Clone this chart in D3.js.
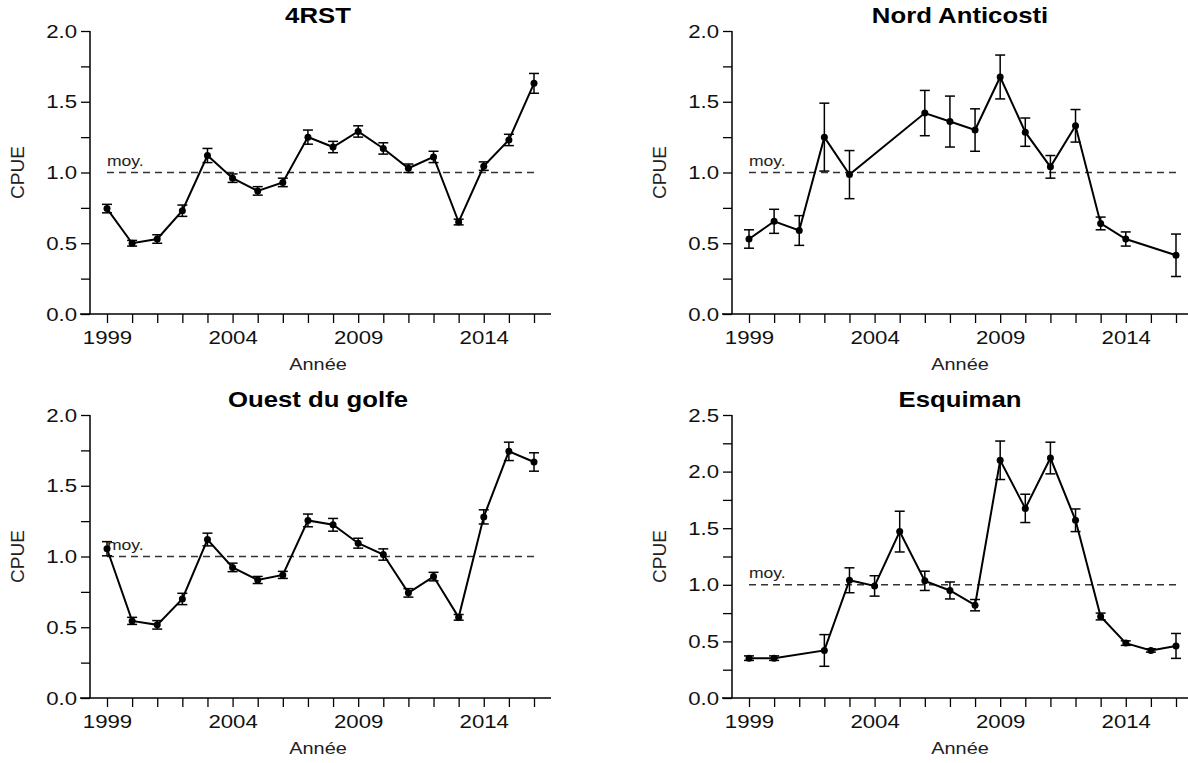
<!DOCTYPE html>
<html>
<head>
<meta charset="utf-8">
<script src="https://cdn.jsdelivr.net/npm/d3@7"></script>
<style>
body { margin: 0; background: #fff; }
svg { font-family: "Liberation Sans", Arial, sans-serif; }
</style>
</head>
<body>
<div id="chart"></div>
<script>
// data
const titles = ["4RST", "Nord Anticosti", "Ouest du golfe", "Esquiman"];
const yearTicks = [1999, 2004, 2009, 2014];

const years4RST = [1999,2000,2001,2002,2003,2004,2005,2006,2007,2008,2009,2010,2011,2012,2013,2014,2015,2016];
const cpue4RST  = [0.745,0.50,0.53,0.73,1.12,0.96,0.87,0.93,1.25,1.18,1.29,1.17,1.03,1.11,0.65,1.045,1.23,1.63];
const err4RST   = [0.03,0.02,0.03,0.04,0.05,0.03,0.03,0.03,0.05,0.04,0.04,0.04,0.03,0.04,0.02,0.03,0.04,0.07];

const yearsNord = [1999,2000,2001,2002,2003,2006,2007,2008,2009,2010,2011,2012,2013,2014,2016];
const cpueNord  = [0.53,0.655,0.59,1.25,0.985,1.42,1.36,1.30,1.675,1.285,1.04,1.33,0.64,0.53,0.415];
const errNord   = [0.065,0.085,0.105,0.24,0.17,0.16,0.18,0.15,0.155,0.10,0.08,0.115,0.045,0.05,0.15];

const yearsOuest = [1999,2000,2001,2002,2003,2004,2005,2006,2007,2008,2009,2010,2011,2012,2013,2014,2015,2016];
const cpueOuest  = [1.055,0.545,0.517,0.70,1.12,0.923,0.834,0.87,1.255,1.224,1.094,1.014,0.743,0.858,0.57,1.28,1.743,1.668];
const errOuest   = [0.05,0.025,0.03,0.04,0.045,0.03,0.025,0.025,0.045,0.045,0.035,0.04,0.03,0.03,0.02,0.05,0.065,0.065];

const yearsEsq = [1999,2000,2002,2003,2004,2005,2006,2007,2008,2009,2010,2011,2012,2013,2014,2015,2016];
const cpueEsq  = [0.352,0.352,0.42,1.04,0.99,1.47,1.035,0.95,0.82,2.10,1.675,2.12,1.57,0.72,0.485,0.42,0.46];
const errEsq   = [0.02,0.02,0.14,0.11,0.09,0.18,0.085,0.075,0.05,0.17,0.125,0.14,0.10,0.03,0.02,0.015,0.11];

const yMaxes = [2.0, 2.0, 2.0, 2.5];

const panels = [
    {title: titles[0], years: years4RST, cpue: cpue4RST, err: err4RST, yMax: yMaxes[0], ox: 0, oy: 0},
    {title: titles[1], years: yearsNord, cpue: cpueNord, err: errNord, yMax: yMaxes[1], ox: 642, oy: 0},
    {title: titles[2], years: yearsOuest, cpue: cpueOuest, err: errOuest, yMax: yMaxes[2], ox: 0, oy: 384},
    {title: titles[3], years: yearsEsq, cpue: cpueEsq, err: errEsq, yMax: yMaxes[3], ox: 642, oy: 384}
];

// the reference's lettering is a bit wider than Liberation Sans
const sx = 1.17;

const svg = d3.select("#chart").append("svg")
    .attr("width", 1188)
    .attr("height", 763);

function wideText(parent, x, y, txt, size) {
    return parent.append("g").attr("transform", "translate(" + x + "," + y + ") scale(" + sx + ",1)")
        .append("text").attr("font-size", size).attr("text-anchor", "middle").text(txt);
}

panels.forEach(p => {
    const g = svg.append("g").attr("transform", "translate(" + p.ox + "," + p.oy + ")");
    const xScale = d3.scaleLinear().domain([1999, 2016]).range([107, 534]);
    const yScale = d3.scaleLinear().domain([0, p.yMax]).range([314, 31]);

    const xAxisG = g.append("g").attr("transform", "translate(0,314)");
    xAxisG.append("line").attr("x1", 80).attr("x2", 551).attr("stroke", "#000").attr("stroke-width", 1.5);
    xAxisG.call(d3.axisBottom(xScale).tickValues(d3.range(1999, 2017)).tickSize(9).tickFormat(d => yearTicks.includes(d) ? d : ""))
        .call(a => a.select(".domain").remove())
        .selectAll("text").attr("font-size", 19).attr("fill", "#111").attr("y", 13).attr("dy", "0.9em")
        .attr("transform", "scale(" + sx + ",1)");
    xAxisG.selectAll(".tick line").attr("stroke-width", 1.3);

    const yAxisG = g.append("g").attr("transform", "translate(90,0)");
    yAxisG.call(d3.axisLeft(yScale).tickValues(d3.range(0, p.yMax + 0.01, 0.25)).tickSize(9)
            .tickFormat(d => (Math.round(d * 100) % 50 === 0) ? d3.format(".1f")(d) : ""))
        .call(a => a.select(".domain").attr("d", "M0," + yScale(0) + "V" + yScale(p.yMax)).attr("stroke-width", 1.5))
        .selectAll("text").attr("font-size", 19).attr("fill", "#111").attr("x", -11)
        .attr("transform", "scale(" + sx + ",1)");
    yAxisG.selectAll(".tick line").attr("stroke-width", 1.3);

    wideText(g, 318, 23, p.title, 22).attr("font-weight", "bold");
    wideText(g, 318, 370, "Année", 17).attr("fill", "#222");
    g.append("text").attr("transform", "translate(24," + yScale(p.yMax / 2) + ") rotate(-90)")
        .attr("text-anchor", "middle").attr("font-size", 19).attr("fill", "#222").text("CPUE");

    // mean line
    g.append("line").attr("x1", xScale(1999)).attr("x2", xScale(2016))
        .attr("y1", yScale(1)).attr("y2", yScale(1))
        .attr("stroke", "#333").attr("stroke-width", 1.5).attr("stroke-dasharray", "7,5");
    wideText(g, xScale(1999), yScale(1) - 7, "moy.", 15).attr("text-anchor", "start").attr("fill", "#222");

    const data = p.years.map((y, i) => ({year: y, v: p.cpue[i], e: p.err[i]}));

    g.append("path").datum(data)
        .attr("fill", "none").attr("stroke", "#000").attr("stroke-width", 2)
        .attr("d", d3.line().x(d => xScale(d.year)).y(d => yScale(d.v)));

    const eb = g.selectAll(".errG").data(data).join("g").attr("class", "errG")
        .attr("stroke", "#000").attr("stroke-width", 1.5);
    eb.append("line").attr("x1", d => xScale(d.year)).attr("x2", d => xScale(d.year))
        .attr("y1", d => yScale(d.v - d.e)).attr("y2", d => yScale(d.v + d.e));
    eb.append("line").attr("x1", d => xScale(d.year) - 5).attr("x2", d => xScale(d.year) + 5)
        .attr("y1", d => yScale(d.v - d.e)).attr("y2", d => yScale(d.v - d.e));
    eb.append("line").attr("x1", d => xScale(d.year) - 5).attr("x2", d => xScale(d.year) + 5)
        .attr("y1", d => yScale(d.v + d.e)).attr("y2", d => yScale(d.v + d.e));

    g.selectAll(".pt").data(data).join("circle").attr("class", "pt")
        .attr("cx", d => xScale(d.year)).attr("cy", d => yScale(d.v)).attr("r", 3.5).attr("fill", "#000");
});
</script>
</body>
</html>
